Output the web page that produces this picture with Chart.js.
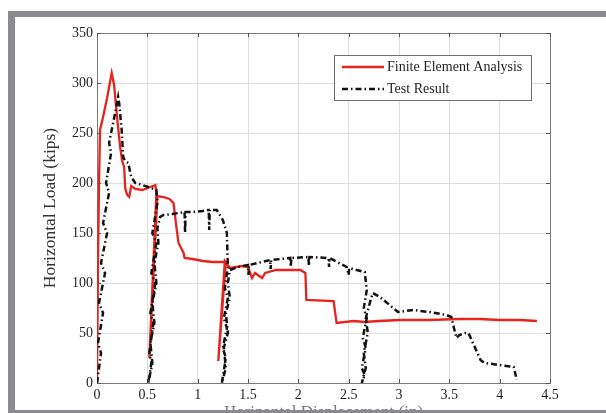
<!DOCTYPE html>
<html>
<head>
<meta charset="utf-8">
<script src="https://cdn.jsdelivr.net/npm/chart.js@4/dist/chart.umd.min.js"></script>
<style>
  html, body { margin: 0; padding: 0; background: #ffffff; overflow: hidden; }
  canvas { display: block; }
</style>
</head>
<body>
<canvas id="chart" width="606" height="413"></canvas>
<script>
// Axis ticks
const xTickValues = [0, 0.5, 1, 1.5, 2, 2.5, 3, 3.5, 4, 4.5];
const yTickValues = [0, 50, 100, 150, 200, 250, 300, 350];

// Series names
const seriesNames = ['Finite Element Analysis', 'Test Result'];

// Finite element analysis: displacement (in) and horizontal load (kips)
const feaDisp = [0, 0.01, 0.02, 0.03, 0.06, 0.1, 0.146, 0.17, 0.2, 0.23, 0.25, 0.27, 0.28, 0.3, 0.32,
  0.34, 0.38, 0.45, 0.53, 0.58, 0.59, 0.52, 0.6, 0.66, 0.72, 0.76, 0.79, 0.81, 0.86, 0.87, 0.95, 1.05,
  1.15, 1.28, 1.205, 1.27, 1.32, 1.44, 1.5, 1.54, 1.57, 1.64, 1.67, 1.78, 1.92, 2.02, 2.07, 2.08, 2.35,
  2.38, 2.55, 2.66, 2.8, 3.01, 3.3, 3.6, 3.8, 4.0, 4.2, 4.37];
const feaLoad = [0, 120, 200, 253, 266, 285, 310, 298, 265, 236, 222, 216, 195, 188, 186,
  197, 194, 193, 196, 198, 190, 25, 187, 186, 184, 180, 155, 140, 130, 125, 124, 122,
  121, 121, 22, 122, 115, 117, 116, 105, 110, 105, 110, 113, 113, 113, 110, 83, 82,
  60, 62, 61, 62, 63, 63, 64, 64, 63, 63, 62];

// Test result: displacement (in) and horizontal load (kips), load cycles included
const testDisp = [
  0, 0.04, 0.01, 0.06, 0.02, 0.08, 0.04, 0.1, 0.06, 0.12, 0.09, 0.14, 0.12, 0.17, 0.19, 0.21,
  0.22, 0.245, 0.26, 0.28, 0.31, 0.34, 0.38, 0.45, 0.51, 0.59, 0.6,
  0.55, 0.59, 0.54, 0.58, 0.53, 0.56, 0.52, 0.54, 0.51,
  0.55, 0.53, 0.57, 0.55, 0.59, 0.57, 0.61, 0.6, 0.626,
  0.66, 0.75, 0.87, 0.875, 0.88, 0.95, 1.05, 1.11, 1.115, 1.12, 1.19, 1.25, 1.29, 1.3,
  1.27, 1.3, 1.26, 1.29, 1.25, 1.28, 1.24,
  1.28, 1.26, 1.3, 1.28, 1.32, 1.3, 1.32,
  1.4, 1.5, 1.505, 1.51, 1.6, 1.72, 1.725, 1.73, 1.92, 1.925, 1.93, 2.1, 2.105, 2.11, 2.3, 2.305,
  2.31, 2.48, 2.5, 2.505, 2.66, 2.68,
  2.65, 2.68, 2.64, 2.67, 2.63, 2.66, 2.63,
  2.67, 2.65, 2.69, 2.67, 2.71, 2.74,
  2.81, 2.99, 3.14, 3.3, 3.47, 3.52, 3.57, 3.6, 3.66, 3.69, 3.81, 3.85, 4.0, 4.14, 4.17];
const testLoad = [
  0, 30, 40, 70, 80, 110, 120, 150, 160, 190, 200, 230, 240, 265, 275, 286,
  280, 253, 226, 222, 220, 206, 200, 198, 196, 193, 180,
  150, 140, 110, 100, 70, 60, 30, 20, 0,
  20, 40, 60, 80, 100, 120, 140, 155, 166,
  168, 169, 171, 150, 171, 171, 172, 173, 153, 173, 173, 163, 150, 116,
  95, 85, 65, 55, 35, 25, 0,
  15, 35, 50, 70, 85, 100, 113,
  116, 118, 108, 118, 120, 123, 114, 123, 125, 116, 125, 126, 117, 126, 125, 116,
  125, 116, 108, 115, 111, 93,
  75, 65, 45, 35, 15, 8, 0,
  15, 30, 50, 65, 80, 90,
  86, 71, 73, 71, 68, 66, 45, 48, 50, 50, 23, 20, 18, 16, 3];

const toPoints = (xs, ys) => xs.map((x, i) => ({ x: x, y: ys[i] }));

const serif = '"Liberation Serif", "Times New Roman", serif';
const redColor = '#e8221c';
const blackColor = '#121212';
const testDash = [6, 3, 1.5, 3];

// Frame, axes box, inward ticks and legend
const decorations = {
  id: 'decorations',
  beforeDatasetsDraw(chart) {
    const { ctx, chartArea: a, scales } = chart;
    ctx.save();
    ctx.strokeStyle = '#7b7b7b';
    ctx.lineWidth = 1;
    ctx.strokeRect(a.left + 0.5, a.top + 0.5, a.right - a.left, a.bottom - a.top);
    ctx.strokeStyle = '#555';
    ctx.beginPath();
    xTickValues.forEach(v => {
      const px = Math.round(scales.x.getPixelForValue(v)) + 0.5;
      ctx.moveTo(px, a.bottom); ctx.lineTo(px, a.bottom - 4);
      ctx.moveTo(px, a.top); ctx.lineTo(px, a.top + 4);
    });
    yTickValues.forEach(v => {
      const py = Math.round(scales.y.getPixelForValue(v)) + 0.5;
      ctx.moveTo(a.left, py); ctx.lineTo(a.left + 4, py);
      ctx.moveTo(a.right, py); ctx.lineTo(a.right - 4, py);
    });
    ctx.stroke();
    ctx.restore();
  },
  afterDatasetsDraw(chart) {
    const { ctx } = chart;
    ctx.save();
    // legend box
    const bx = 334, by = 55, bw = 197, bh = 45;
    ctx.fillStyle = '#ffffff';
    ctx.fillRect(bx, by, bw, bh);
    ctx.strokeStyle = '#6f6f6f';
    ctx.lineWidth = 1;
    ctx.strokeRect(bx + 0.5, by + 0.5, bw, bh);
    const ds = chart.data.datasets;
    const rows = [67, 89];
    ds.forEach((d, i) => {
      ctx.strokeStyle = d.borderColor;
      ctx.lineWidth = d.borderWidth;
      ctx.setLineDash(d.borderDash || []);
      ctx.beginPath();
      ctx.moveTo(342, rows[i]);
      ctx.lineTo(384, rows[i]);
      ctx.stroke();
      ctx.setLineDash([]);
      ctx.fillStyle = '#1e1e1e';
      ctx.font = '14px ' + serif;
      ctx.textBaseline = 'middle';
      ctx.textAlign = 'left';
      ctx.fillText(d.label, 387, rows[i]);
    });
    ctx.restore();
  },
  afterDraw(chart) {
    const { ctx, width, height } = chart;
    ctx.save();
    ctx.fillStyle = '#8a8b8e';
    ctx.fillRect(8, 11, width - 8, 6);     // top bar
    ctx.fillRect(8, 11, 7, height - 11);   // left bar
    ctx.fillRect(8, 410, width - 8, 3);    // bottom bar
    ctx.restore();
  }
};

new Chart(document.getElementById('chart'), {
  type: 'scatter',
  data: {
    datasets: [
      {
        label: seriesNames[0],
        data: toPoints(feaDisp, feaLoad),
        showLine: true,
        borderColor: redColor,
        borderWidth: 2.3,
        pointRadius: 0,
        tension: 0,
        fill: false,
        order: 2
      },
      {
        label: seriesNames[1],
        data: toPoints(testDisp, testLoad),
        showLine: true,
        borderColor: blackColor,
        borderWidth: 2.5,
        borderDash: testDash,
        pointRadius: 0,
        tension: 0,
        fill: false,
        order: 1
      }
    ]
  },
  options: {
    responsive: false,
    animation: false,
    devicePixelRatio: 1,
    layout: { padding: { left: 38, top: 33, right: 56, bottom: 0 } },
    plugins: { legend: { display: false }, tooltip: { enabled: false } },
    scales: {
      x: {
        type: 'linear',
        min: 0,
        max: 4.5,
        afterBuildTicks: s => { s.ticks = xTickValues.map(v => ({ value: v })); },
        afterFit: s => { s.height = 30; },
        grid: { color: '#dedede', drawTicks: false },
        border: { display: false },
        ticks: {
          padding: 4,
          maxRotation: 0,
          autoSkip: false,
          color: '#1e1e1e',
          font: { family: serif, size: 14 },
          callback: v => String(v)
        },
        title: {
          display: true,
          text: 'Horizontal Displacement (in)',
          color: '#777',
          font: { family: serif, size: 17 },
          padding: { top: 0, bottom: -10 }
        }
      },
      y: {
        type: 'linear',
        min: 0,
        max: 350,
        afterBuildTicks: s => { s.ticks = yTickValues.map(v => ({ value: v })); },
        afterFit: s => { s.width = 59; },
        grid: { color: '#dedede', drawTicks: false },
        border: { display: false },
        ticks: {
          padding: 4,
          color: '#1e1e1e',
          font: { family: serif, size: 14 },
          callback: v => String(v)
        },
        title: {
          display: true,
          text: 'Horizontal Load (kips)',
          color: '#333',
          font: { family: serif, size: 17.5 },
          padding: { top: 2, bottom: 0 }
        }
      }
    }
  },
  plugins: [decorations]
});
</script>
</body>
</html>
